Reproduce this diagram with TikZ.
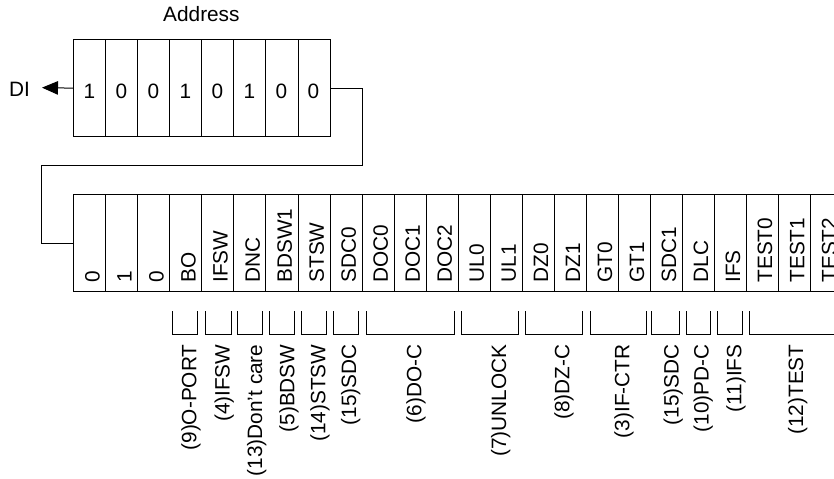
\documentclass[tikz,border=0pt]{standalone}
\usepackage{fontspec}
\setmainfont{Liberation Sans}
\usetikzlibrary{arrows.meta}
\begin{document}
\begin{tikzpicture}[x=1bp,y=-1bp,line width=1bp,
  cell/.style={draw,rectangle,minimum width=32.03bp,minimum height=96.7bp,inner sep=0pt,anchor=north west},
  txt/.style={inner sep=0pt,font=\fontsize{20.8bp}{25bp}\selectfont},
  vtxt/.style={txt,rotate=90},
  conn/.style={draw,line width=1bp},
  bracket/.style={draw,line width=1bp},
  ptr/.style={-{Triangle[length=16bp,width=13.5bp]}}]
\useasboundingbox (0,0) rectangle (834,479);
\clip (0,0) rectangle (834,479);
% Address register
\node[txt,anchor=base] (addr) at (201.4,21.7) {Address};
\foreach \t [count=\i from 0] in {1,0,0,1,0,1,0,0} {
  \node[cell] (t\i) at (73.3+32.03*\i,39.3) {};
  \node[txt,anchor=base] (tt\i) at (89.315+32.03*\i,98.3) {\t};
}
% DI output
\node[txt,anchor=base east] (di) at (30.4,96.7) {DI};
\coordinate (ditip) at (42,87.65);
\draw[ptr] (t0.west) -- (ditip);
% long register
\foreach \t [count=\i from 0] in {0,1,0,BO,IFSW,DNC,BDSW1,STSW,SDC0,DOC0,DOC1,DOC2,UL0,UL1,DZ0,DZ1,GT0,GT1,SDC1,DLC,IFS,TEST0,TEST1,TEST2} {
  \node[cell] (b\i) at (73.3+32.03*\i,194.3) {};
  \node[vtxt,anchor=base west] (bt\i) at (99.6+32.03*\i,283) {\t};
}
% connector between registers
\coordinate (k1) at (362.3,165.7);
\coordinate (k2) at (41.7,165.7);
\draw[conn] (t7.east) -| (k1) -- (k2) |- (b0.west);
% brackets and group labels
\foreach \l/\r/\xb/\t [count=\i] in {
  172.3/197.3/196.3/{(9)O-PORT},
  205.7/231/229.6/{(4)IFSW},
  237.3/262/262/{(13)Don't care},
  269.3/294.3/294.3/{(5)BDSW},
  301.7/326.7/325.3/{(14)STSW},
  333/358.7/356/{(15)SDC},
  366/454.3/421.3/{(6)DO-C},
  461.7/518.3/506/{(7)UNLOCK},
  525/582.3/569.3/{(8)DZ-C},
  590/646.7/629.3/{(3)IF-CTR},
  651/679/678.6/{(15)SDC},
  686/710.7/708.6/{(10)PD-C},
  717.7/742.7/741.3/{(11)IFS},
  749.3/838.8/803/{(12)TEST}} {
  \draw[bracket] (\l,311) -- (\l,334.3) -- (\r,334.3) -- (\r,311);
  \node[vtxt,anchor=base east] (g\i) at (\xb,344) {\t};
}
\end{tikzpicture}
\end{document}
